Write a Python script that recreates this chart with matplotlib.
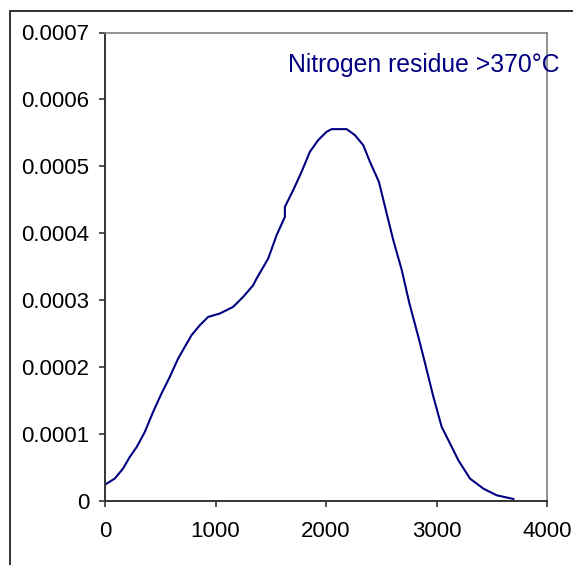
import matplotlib
matplotlib.use("Agg")
from matplotlib import pyplot as plt
from matplotlib.patches import Rectangle

# temperature-ish axis (0..4000) and signal
x_vals = [6, 88, 163, 224, 287, 360, 435, 511, 586, 662, 722, 783, 858, 933,
          1039, 1159, 1250, 1341, 1372, 1477, 1553, 1628, 1628, 1703, 1779,
          1854, 1929, 2005, 2051, 2187, 2262, 2337, 2398, 2479, 2549, 2609,
          2686, 2755, 2836, 2897, 2972, 3047, 3123, 3198, 3303, 3424, 3545,
          3696]
y_vals = [0.250, 0.335, 0.484, 0.658, 0.807, 1.031, 1.330, 1.605, 1.853,
          2.129, 2.302, 2.477, 2.626, 2.750, 2.801, 2.900, 3.049, 3.224,
          3.324, 3.623, 3.972, 4.245, 4.395, 4.644, 4.918, 5.217, 5.392,
          5.516, 5.556, 5.556, 5.466, 5.317, 5.067, 4.768, 4.296, 3.897,
          3.448, 2.951, 2.451, 2.054, 1.555, 1.106, 0.858, 0.608, 0.335,
          0.185, 0.085, 0.030]
y_vals = [v * 1e-4 for v in y_vals]

x_ticks = [0, 1000, 2000, 3000, 4000]
y_ticks = [0, 0.0001, 0.0002, 0.0003, 0.0004, 0.0005, 0.0006, 0.0007]
y_tick_labels = ["0", "0.0001", "0.0002", "0.0003", "0.0004", "0.0005", "0.0006", "0.0007"]
label = "Nitrogen residue >370°C"

plt.rcParams['font.family'] = ['Liberation Sans', 'DejaVu Sans']

W, H = 573, 565
fig = plt.figure(figsize=(W / 100, H / 100), dpi=100)
ax = fig.add_axes([105 / W, 1 - 501 / H, 442 / W, 468.5 / H])

ax.plot(x_vals, y_vals, color='#000080', lw=1.5)

ax.set_xlim(0, 4000)
ax.set_ylim(0, 0.0007)
ax.set_xticks(x_ticks)
ax.set_yticks(y_ticks)
ax.set_yticklabels(y_tick_labels)
ax.tick_params(direction='out', length=4.5, width=1.2, colors='#333333',
               labelcolor='black', labelsize=16)
ax.tick_params(axis='y', pad=7)
ax.tick_params(axis='x', pad=10)

for side in ['left', 'bottom']:
    ax.spines[side].set_color('#333333')
    ax.spines[side].set_linewidth(1.4)
for side in ['top', 'right']:
    ax.spines[side].set_color('#808080')
    ax.spines[side].set_linewidth(1.2)

ax.text(0.414, 0.931, label, transform=ax.transAxes, color='#000080',
        fontsize=17.8, ha='left', va='center', clip_on=False)

# outer chart frame (runs off the right and bottom edges)
fig.patches.append(Rectangle((9.5 / W, -0.1), 1.2, 1.1 - 10.5 / H,
                             transform=fig.transFigure, fill=False,
                             edgecolor='#222222', lw=1.3, clip_on=False))

plt.savefig("out.png", dpi=100)
